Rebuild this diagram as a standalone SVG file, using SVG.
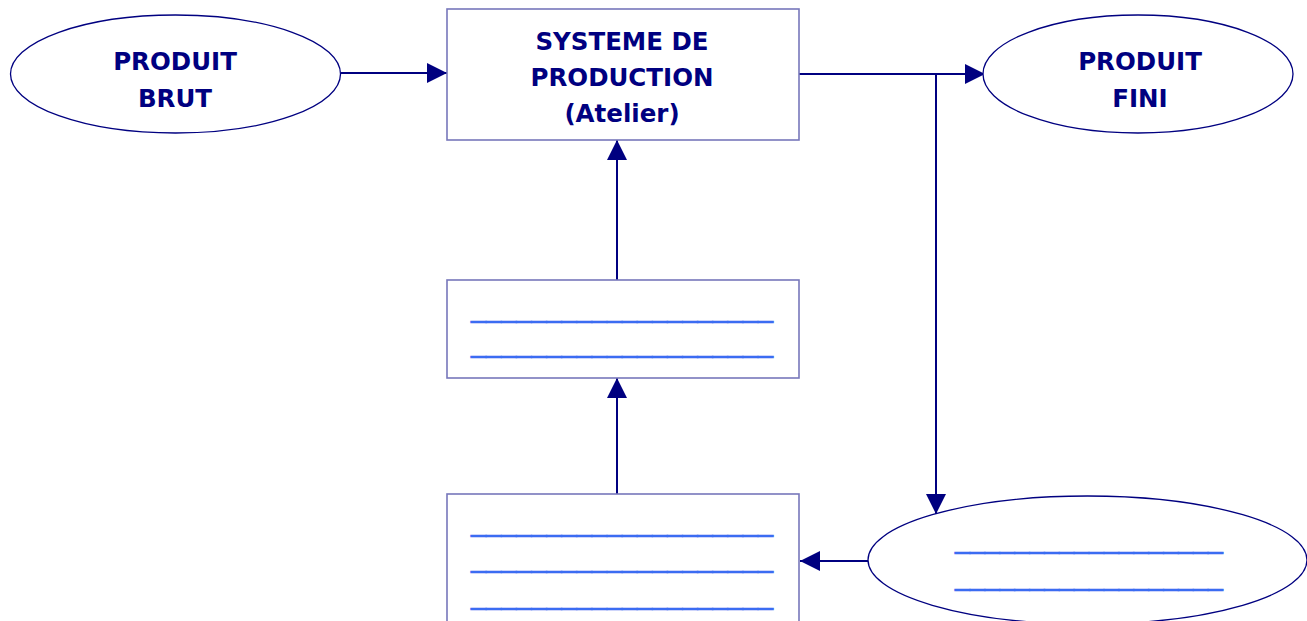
<svg xmlns="http://www.w3.org/2000/svg" width="1307" height="621" viewBox="0 0 1307 621">
<style>
.ell{fill:#fff;stroke:#000080;stroke-width:1.3}
.box{fill:#fff;stroke:#7777bb;stroke-width:1.6}
.lbl{font-family:"DejaVu Sans",sans-serif;font-weight:bold;font-size:24.5px;fill:#000080;text-anchor:middle}
.blank{font-family:"Liberation Sans",sans-serif;font-size:30px;fill:#3b6cf2;stroke:#3b6cf2;stroke-width:0.7}
.con{stroke:#000080;stroke-width:2;fill:none}
</style>
<defs>
<marker id="ah" viewBox="0 0 20 20" refX="20" refY="10" markerWidth="20" markerHeight="20" markerUnits="userSpaceOnUse" orient="auto">
<path d="M0,0 L20,10 L0,20 Z" fill="#000080"/>
</marker>
</defs>
<g id="connectors">
<line class="con" x1="341" y1="73" x2="447" y2="73" marker-end="url(#ah)"/>
<line class="con" x1="799" y1="74" x2="985" y2="74" marker-end="url(#ah)"/>
<line class="con" x1="936" y1="74" x2="936" y2="514" marker-end="url(#ah)"/>
<line class="con" x1="617" y1="280" x2="617" y2="140" marker-end="url(#ah)"/>
<line class="con" x1="617" y1="494" x2="617" y2="378" marker-end="url(#ah)"/>
<line class="con" x1="868" y1="561" x2="800" y2="561" marker-end="url(#ah)"/>
</g>
<g id="produit-brut">
<ellipse class="ell" cx="175.5" cy="74" rx="165" ry="59"/>
<text class="lbl" x="175" y="70">PRODUIT</text>
<text class="lbl" x="175" y="107">BRUT</text>
</g>
<g id="systeme">
<rect class="box" x="447" y="9" width="352" height="131"/>
<text class="lbl" x="622" y="50">SYSTEME DE</text>
<text class="lbl" x="622" y="86">PRODUCTION</text>
<text class="lbl" x="622" y="122">(Atelier)</text>
</g>
<g id="produit-fini">
<ellipse class="ell" cx="1138" cy="74" rx="155" ry="59"/>
<text class="lbl" x="1140" y="70">PRODUIT</text>
<text class="lbl" x="1140" y="107">FINI</text>
</g>
<g id="box-middle">
<rect class="box" x="447" y="280" width="352" height="98"/>
<text class="blank" x="471" y="317" textLength="302" lengthAdjust="spacingAndGlyphs">____________________</text>
<text class="blank" x="471" y="352" textLength="302" lengthAdjust="spacingAndGlyphs">____________________</text>
</g>
<g id="box-bottom">
<rect class="box" x="447" y="494" width="352" height="150"/>
<text class="blank" x="471" y="531" textLength="302" lengthAdjust="spacingAndGlyphs">____________________</text>
<text class="blank" x="471" y="567" textLength="302" lengthAdjust="spacingAndGlyphs">____________________</text>
<text class="blank" x="471" y="604" textLength="302" lengthAdjust="spacingAndGlyphs">____________________</text>
</g>
<g id="ellipse-bottom">
<ellipse class="ell" cx="1087.5" cy="560" rx="219.5" ry="64"/>
<text class="blank" x="955" y="548" textLength="268" lengthAdjust="spacingAndGlyphs">__________________</text>
<text class="blank" x="955" y="585" textLength="268" lengthAdjust="spacingAndGlyphs">__________________</text>
</g>
</svg>
